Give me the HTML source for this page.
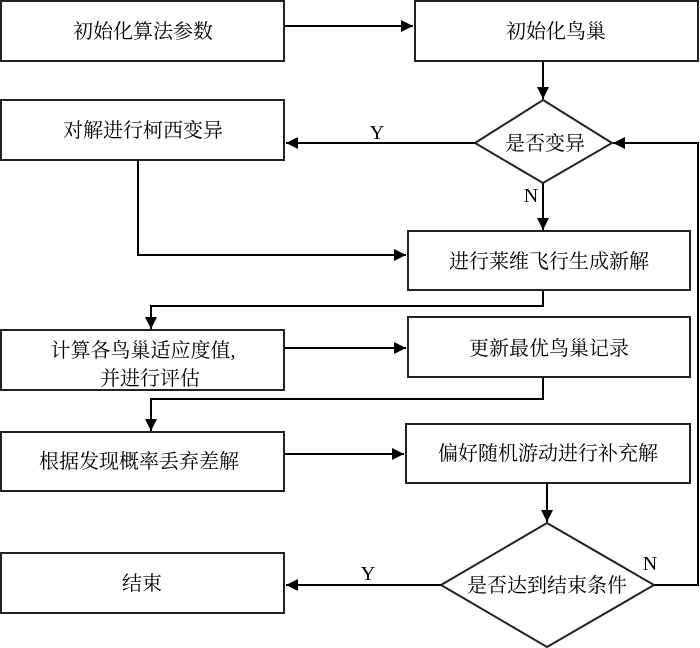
<html><body style="margin:0;background:#fff">
<svg width="700" height="648" viewBox="0 0 700 648" xmlns="http://www.w3.org/2000/svg" style="display:block">
<defs><marker id="a" markerWidth="12" markerHeight="12" refX="12" refY="6" orient="auto" markerUnits="userSpaceOnUse"><path d="M0,0L12,6L0,12z" fill="#000"/></marker></defs>
<g fill="none" stroke="#222" stroke-width="2">
<rect x="1" y="1" width="283" height="60"/>
<rect x="415" y="1" width="283" height="60"/>
<rect x="1" y="100" width="283" height="60"/>
<rect x="408" y="231" width="282" height="59"/>
<rect x="1" y="330" width="283" height="60"/>
<rect x="408" y="317" width="282" height="60"/>
<rect x="1" y="432" width="283" height="59"/>
<rect x="406" y="424" width="284" height="59"/>
<rect x="1" y="553" width="283" height="60"/>
<path d="M543,100L612,143L543,183L475,143Z"/>
<path d="M547,523L654,585L547,647L441,585Z"/>
</g>
<g fill="none" stroke="#000" stroke-width="2" marker-end="url(#a)">
<path d="M284,26H413"/>
<path d="M543,61V99"/>
<path d="M475,143H286"/>
<path d="M543,183V230"/>
<path d="M138,160V255H406"/>
<path d="M543,290V306H151V329"/>
<path d="M284,348H406"/>
<path d="M543,377V399H151V431"/>
<path d="M284,454H404"/>
<path d="M547,483V522"/>
<path d="M441,585H286"/>
<path d="M654,585H698V143H613"/>
</g>
<g font-family="Liberation Serif,Noto Serif CJK SC,serif" font-size="20" fill="#000" text-anchor="middle">
<text x="143" y="38">初始化算法参数</text>
<text x="556" y="38">初始化鸟巢</text>
<text x="143" y="137">对解进行柯西变异</text>
<text x="545" y="150">是否变异</text>
<text x="549" y="268">进行莱维飞行生成新解</text>
<text x="143" y="357">计算各鸟巢适应度值,</text>
<text x="150" y="385">并进行评估</text>
<text x="549" y="355">更新最优鸟巢记录</text>
<text x="139" y="468">根据发现概率丢弃差解</text>
<text x="548" y="460">偏好随机游动进行补充解</text>
<text x="142" y="590">结束</text>
<text x="547" y="592">是否达到结束条件</text>
<text x="377" y="139">Y</text>
<text x="531" y="202">N</text>
<text x="368" y="580">Y</text>
<text x="650" y="570">N</text>
</g>
</svg>
</body></html>
